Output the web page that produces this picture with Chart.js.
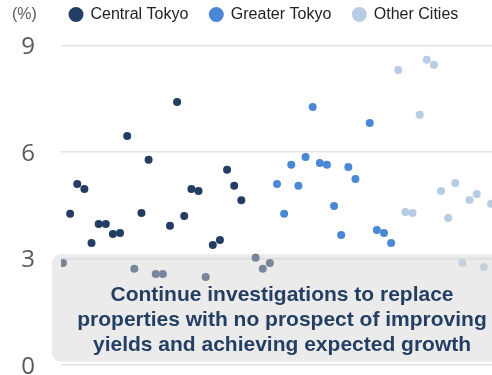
<!DOCTYPE html>
<html><head><meta charset="utf-8">
<script src="https://cdn.jsdelivr.net/npm/chart.js@4/dist/chart.umd.min.js"></script>
<style>html,body{margin:0;padding:0;background:#fff;overflow:hidden;}#wrap{width:492px;height:375px;}</style>
</head><body><div id="wrap"><canvas id="c" width="492" height="375"></canvas></div>
<script>
const seriesNames = ['Central Tokyo', 'Greater Tokyo', 'Other Cities'];
const seriesColors = ['#233e62', '#4a88d6', '#b8cce4'];

const centralIdx   = [0, 1, 2, 3, 4, 5, 6, 7, 8, 9, 10, 11, 12, 13, 14, 15, 16, 17, 18, 19, 20, 21, 22, 23, 24, 25, 27, 28, 29];
const centralYield = [2.87, 4.26, 5.10, 4.96, 3.44, 3.97, 3.97, 3.69, 3.72, 6.45, 2.71, 4.28, 5.78, 2.56, 2.56, 3.92, 7.41, 4.20, 4.96, 4.90, 2.48, 3.38, 3.52, 5.50, 5.05, 4.64, 3.02, 2.71, 2.87];

const greaterIdx   = [30, 31, 32, 33, 34, 35, 36, 37, 38, 39, 40, 41, 43, 44, 45, 46];
const greaterYield = [5.10, 4.26, 5.64, 5.05, 5.86, 7.27, 5.69, 5.64, 4.48, 3.66, 5.58, 5.24, 6.82, 3.80, 3.72, 3.44];

const otherIdx   = [47, 48, 49, 50, 51, 52, 53, 54, 55, 56, 57, 58, 59, 60];
const otherYield = [8.31, 4.31, 4.28, 7.05, 8.60, 8.46, 4.90, 4.14, 5.13, 2.87, 4.65, 4.82, 2.76, 4.54];

const yTicks = [0, 3, 6, 9];
const unitLabel = '(%)';
const noteLines = [
  'Continue investigations to replace',
  'properties with no prospect of improving',
  'yields and achieving expected growth'
];
const noteRange = [0.093, 3.12]; // yield band covered by the note box

function pts(xs, ys) { return xs.map((x, i) => ({ x: x, y: ys[i] })); }

const FONT = "'Liberation Sans', Arial, sans-serif";

const notePlugin = {
  id: 'note',
  afterLayout(chart) {
    const lg = chart.legend;
    if (lg) { lg.left = 48; lg.top = 6.5 - 21.5; }
  },
  afterDatasetsDraw(chart) {
    const { ctx, chartArea, scales } = chart;
    const y = scales.y;
    const top = y.getPixelForValue(noteRange[1]);
    const bottom = y.getPixelForValue(noteRange[0]);
    const left = chartArea.left - 9;
    const right = chartArea.right + 20;
    ctx.save();
    ctx.beginPath();
    ctx.roundRect(left, top, right - left, bottom - top, 9);
    ctx.fillStyle = 'rgba(214,214,214,0.48)';
    ctx.fill();
    ctx.fillStyle = '#243f63';
    ctx.font = "bold 21px " + FONT;
    ctx.textAlign = 'center';
    ctx.textBaseline = 'alphabetic';
    const cx = (left + right) / 2;
    noteLines.forEach((t, i) => ctx.fillText(t, cx, top + 47 + i * 25));
    ctx.restore();
  },
  afterDraw(chart) {
    const { ctx } = chart;
    ctx.save();
    ctx.fillStyle = '#595959';
    ctx.font = "16px " + FONT;
    ctx.textAlign = 'left';
    ctx.textBaseline = 'middle';
    ctx.fillText(unitLabel, 12, 14.5);
    ctx.restore();
  }
};

new Chart(document.getElementById('c'), {
  type: 'scatter',
  data: {
    datasets: [
      { label: seriesNames[0], data: pts(centralIdx, centralYield), backgroundColor: seriesColors[0], borderWidth: 0, pointRadius: 4, pointHoverRadius: 4 },
      { label: seriesNames[1], data: pts(greaterIdx, greaterYield), backgroundColor: seriesColors[1], borderWidth: 0, pointRadius: 4, pointHoverRadius: 4 },
      { label: seriesNames[2], data: pts(otherIdx, otherYield), backgroundColor: seriesColors[2], borderWidth: 0, pointRadius: 4, pointHoverRadius: 4 }
    ]
  },
  options: {
    responsive: false,
    animation: false,
    events: [],
    layout: { autoPadding: false, padding: { top: -2, bottom: 10, left: 0, right: 0 } },
    plugins: {
      tooltip: { enabled: false },
      legend: {
        position: 'top',
        align: 'start',
        labels: {
          usePointStyle: true,
          pointStyle: 'circle',
          boxWidth: 13,
          boxHeight: 10.6,
          padding: 21.5,
          color: '#222222',
          font: { family: FONT, size: 16 }
        }
      }
    },
    scales: {
      x: { type: 'linear', min: -0.28, max: 60.14, display: false },
      y: {
        min: 0, max: 9,
        afterFit(s) { s.width = 61; },
        afterBuildTicks(s) { s.ticks = yTicks.map(v => ({ value: v })); },
        border: { display: false },
        grid: { color: '#e3e3e3', lineWidth: 1.5, drawTicks: true, tickLength: 26, tickColor: 'rgba(0,0,0,0)' },
        ticks: {
          padding: 0,
          labelOffset: 2,
          color: '#595959',
          font: { family: "'Open Sans', sans-serif", size: 24, lineHeight: 0.7 }
        }
      }
    }
  },
  plugins: [notePlugin]
});
</script>
</body></html>
